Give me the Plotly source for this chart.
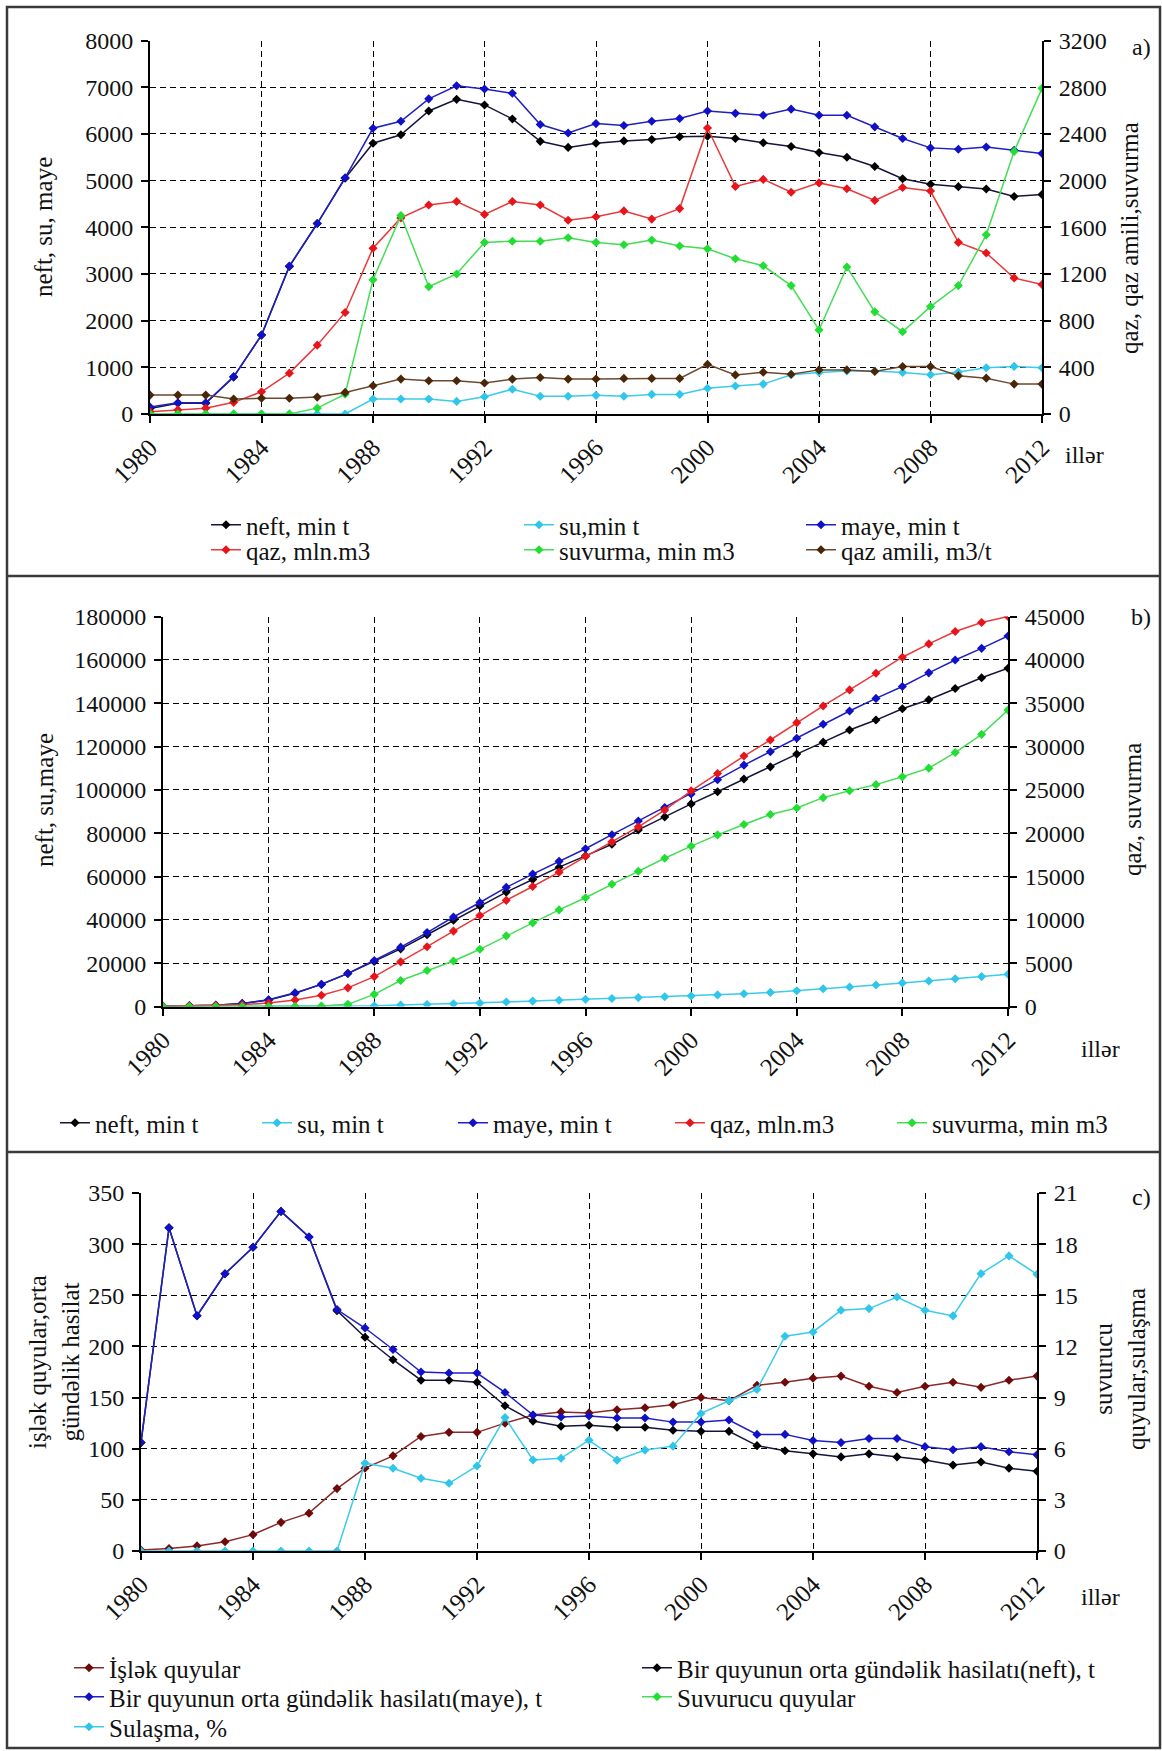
import plotly.graph_objects as go

# ---------------------------------------------------------------- data
years = list(range(1980, 2013))
year_ticks = list(range(1980, 2013, 4))

# a) annual production
neft_a = [120, 230, 230, 790, 1690, 3160, 4080, 5050, 5800, 5980, 6490, 6740, 6620,
          6320, 5840, 5710, 5800, 5850, 5880, 5940, 5950, 5900, 5810, 5730, 5600,
          5500, 5300, 5040, 4920, 4870, 4820, 4660, 4700]
su_a = [0, 0, 0, 0, 0, 0, 0, 0, 320, 320, 320, 270, 370, 530, 380, 380, 400, 380,
        420, 420, 550, 600, 640, 840, 890, 920, 920, 890, 840, 900, 990, 1020, 990]
maye_a = [150, 240, 240, 800, 1690, 3170, 4080, 5060, 6120, 6270, 6750, 7030, 6960,
          6870, 6200, 6020, 6220, 6180, 6270, 6330, 6490, 6440, 6400, 6530, 6400,
          6400, 6150, 5900, 5700, 5670, 5720, 5650, 5580]
qaz_a = [20, 35, 50, 100, 190, 350, 590, 870, 1420, 1680, 1790, 1820, 1710, 1820,
         1790, 1660, 1690, 1740, 1670, 1760, 2450, 1950, 2010, 1900, 1980, 1930,
         1830, 1940, 1910, 1470, 1380, 1165, 1110]
suvurma_a = [0, 0, 0, 0, 0, 0, 50, 170, 1150, 1700, 1090, 1200, 1470, 1480, 1480,
             1510, 1470, 1450, 1490, 1440, 1415, 1330, 1270, 1100, 720, 1260, 875,
             705, 920, 1100, 1535, 2250, 2790]
qaz_amili_a = [162, 162, 162, 128, 135, 135, 145, 185, 242, 299, 285, 285, 265, 299,
               313, 299, 300, 305, 305, 305, 425, 335, 358, 341, 378, 378, 364, 406,
               406, 327, 307, 256, 256]

# b) cumulative production
neft_b = [120, 350, 580, 1370, 3000, 6100, 10200, 15200, 20800, 26600, 33100, 39800,
          46400, 52800, 58600, 64300, 69500, 74900, 81500, 87500, 93500, 99100,
          105000, 110600, 116500, 122000, 127600, 132200, 137400, 141600, 146800,
          151700, 156100]
su_b = [0, 0, 0, 0, 0, 0, 0, 0, 300, 650, 950, 1250, 1600, 2100, 2500, 2900, 3300,
        3700, 4100, 4500, 4850, 5350, 5900, 6500, 7300, 8200, 9000, 9900, 10900,
        11800, 12800, 13800, 14900]
maye_b = [150, 390, 630, 1430, 3100, 6300, 10300, 15300, 21200, 27400, 34100, 41300,
          48000, 55000, 61100, 67000, 72800, 79300, 85600, 91800, 98100, 104700,
          111400, 117600, 123800, 130300, 136400, 142200, 147700, 154000, 159900,
          165300, 171000]
qaz_b = [20, 55, 105, 205, 400, 750, 1300, 2150, 3450, 5150, 6900, 8700, 10500, 12250,
         13850, 15500, 17300, 19000, 20730, 22660, 24890, 26890, 28900, 30750, 32750,
         34680, 36530, 38450, 40300, 41840, 43270, 44310, 45000]
suvurma_b = [0, 0, 0, 0, 0, 0, 50, 250, 1400, 3000, 4150, 5250, 6600, 8150, 9650,
             11150, 12550, 14100, 15600, 17100, 18500, 19800, 21000, 22150, 22900,
             24100, 24900, 25600, 26500, 27500, 29300, 31400, 34200]

# c) wells, daily rates and water cut
islek_c = [1, 2.5, 5, 9, 16, 28, 37, 61, 81, 93, 112, 116, 116, 125, 133, 136, 135,
           138, 140, 143, 150, 147, 162, 165, 169, 171, 161, 155, 161, 165, 160, 167,
           171]
neft_c = [106, 316, 230, 271, 297, 332, 307, 235, 209, 187, 167, 167, 165, 142, 127,
          122, 123, 121, 121, 118, 117, 117, 103, 98, 95, 92, 95, 92, 89, 84, 87, 81,
          78]
maye_c = [106, 316, 230, 271, 297, 332, 307, 236, 218, 197, 175, 174, 174, 155, 133,
          131, 132, 130, 130, 126, 126, 128, 114, 114, 108, 106, 110, 110, 102, 99,
          102, 97, 94]
suvurucu_c = [None] * 33
sulasma_c = [0, 0, 0, 0, 0, 0, 0, 0, 5.15, 4.85, 4.27, 3.97, 4.99, 7.83, 5.34, 5.44,
             6.5, 5.33, 5.92, 6.15, 8.07, 8.81, 9.47, 12.6, 12.85, 14.12, 14.22, 14.9,
             14.12, 13.79, 16.27, 17.31, 16.23]

# ---------------------------------------------------------------- layout helpers
W, H = 1162, 1751
FONT = "Liberation Serif"


def fx(px):
    return px / W


def fy(py):
    return 1 - py / H


fig = go.Figure()

BLACK = ("#000000", "#14143c")
CYAN = ("#2fc6ea", "#3ccbec")
BLUE = ("#1010c8", "#2020c0")
RED = ("#e8141c", "#e83a3a")
GREEN = ("#22dd33", "#44dd55")
BROWN = ("#4a2608", "#6b4a30")
DARKRED = ("#6e0a0a", "#8a2a2a")


def add(xa, ya, name, y, colors, legend):
    mc, lc = colors
    fig.add_trace(go.Scatter(
        x=years, y=y, name=name, mode="lines+markers",
        xaxis=xa, yaxis=ya, legend=legend,
        line=dict(color=lc, width=1.5),
        marker=dict(symbol="diamond", size=7, color=mc),
    ))


legend_specs = {}
leg_count = [0]


def leg(x_line, y_row):
    leg_count[0] += 1
    key = "legend" if leg_count[0] == 1 else f"legend{leg_count[0]}"
    legend_specs[key] = dict(
        x=fx(x_line - 5), y=fy(y_row), xanchor="left", yanchor="middle",
        bgcolor="rgba(0,0,0,0)", borderwidth=0, itemwidth=30,
        font=dict(family=FONT, size=25, color="#111"),
    )
    return key


# panel a
add("x", "y", "neft, min t", neft_a, BLACK, leg(211, 525))
add("x", "y", "su,min t", su_a, CYAN, leg(524, 525))
add("x", "y", "maye, min t", maye_a, BLUE, leg(806, 525))
add("x", "y2", "qaz, mln.m3", qaz_a, RED, leg(211, 550))
add("x", "y2", "suvurma, min m3", suvurma_a, GREEN, leg(524, 550))
add("x", "y2", "qaz amili, m3/t", qaz_amili_a, BROWN, leg(806, 550))

# panel b
add("x2", "y3", "neft, min t", neft_b, BLACK, leg(60, 1123))
add("x2", "y3", "su, min t", su_b, CYAN, leg(262, 1123))
add("x2", "y3", "maye, min t", maye_b, BLUE, leg(458, 1123))
add("x2", "y4", "qaz, mln.m3", qaz_b, RED, leg(675, 1123))
add("x2", "y4", "suvurma, min m3", suvurma_b, GREEN, leg(897, 1123))

# panel c
add("x3", "y5", "İşlək quyular", islek_c, DARKRED, leg(74, 1668))
add("x3", "y5", "Bir quyunun orta gündəlik hasilatı(neft), t", neft_c, BLACK, leg(642, 1668))
add("x3", "y5", "Bir quyunun orta gündəlik hasilatı(maye), t", maye_c, BLUE, leg(74, 1697))
add("x3", "y6", "Suvurucu quyular", suvurucu_c, GREEN, leg(642, 1697))
add("x3", "y6", "Sulaşma, %", sulasma_c, CYAN, leg(74, 1727))

YTICKFONT = dict(family=FONT, size=24, color="#111")
XTICKFONT = dict(family=FONT, size=25, color="#111")
GRID = dict(showgrid=True, gridcolor="#000000", gridwidth=1.4, griddash="6px,4px")


def xaxis(left, right, anchor):
    return dict(
        domain=[fx(left), fx(right)], anchor=anchor, range=[1980, 2012],
        tickmode="array", tickvals=year_ticks, ticktext=[str(t) for t in year_ticks],
        tickangle=-45, ticks="outside", ticklen=7, tickwidth=1.5, tickcolor="#000",
        showline=True, linecolor="#000", linewidth=2, zeroline=False,
        tickfont=XTICKFONT, automargin=False, **GRID,
    )


def yleft(top, bottom, anchor, rng, dtick):
    return dict(
        domain=[fy(bottom), fy(top)], anchor=anchor, range=rng, dtick=dtick,
        tickformat="d", ticks="outside", ticklen=7, tickwidth=1.5, tickcolor="#000",
        showline=True, linecolor="#000", linewidth=2, zeroline=False,
        tickfont=YTICKFONT, automargin=False, ticklabelstandoff=3, **GRID,
    )


def yright(over, anchor, rng, dtick):
    return dict(
        overlaying=over, anchor=anchor, side="right", range=rng, dtick=dtick,
        tickformat="d", ticks="outside", ticklen=7, tickwidth=1.5, tickcolor="#000",
        showline=True, linecolor="#000", linewidth=2, zeroline=False,
        showgrid=False, tickfont=YTICKFONT, automargin=False, ticklabelstandoff=3,
    )


# plot areas (pixel boxes)
A = dict(left=150, right=1042, top=40.5, bottom=414)
B = dict(left=163, right=1008, top=616.5, bottom=1006.5)
C = dict(left=141, right=1037, top=1193, bottom=1551)

layout = dict(
    width=W, height=H, margin=dict(l=0, r=0, t=0, b=0),
    paper_bgcolor="white", plot_bgcolor="white",
    font=dict(family=FONT, size=24, color="#111"),
    showlegend=True,
    xaxis=xaxis(A["left"], A["right"], "y"),
    yaxis=yleft(A["top"], A["bottom"], "x", [0, 8000], 1000),
    yaxis2=yright("y", "x", [0, 3200], 400),
    xaxis2=xaxis(B["left"], B["right"], "y3"),
    yaxis3=yleft(B["top"], B["bottom"], "x2", [0, 180000], 20000),
    yaxis4=yright("y3", "x2", [0, 45000], 5000),
    xaxis3=xaxis(C["left"], C["right"], "y5"),
    yaxis5=yleft(C["top"], C["bottom"], "x3", [0, 350], 50),
    yaxis6=yright("y5", "x3", [0, 21], 3),
)
layout.update(legend_specs)
fig.update_layout(**layout)


def note(text, x, y, size=25, angle=0):
    fig.add_annotation(
        text=text, x=fx(x), y=fy(y), xref="paper", yref="paper",
        showarrow=False, textangle=angle, xanchor="center", yanchor="middle",
        font=dict(family=FONT, size=size, color="#111"),
    )


# axis titles
note("neft, su, maye", 44, 227, angle=-90)
note("qaz, qaz amili,suvurma", 1130, 238, angle=-90)
note("neft, su,maye", 44, 800, angle=-90)
note("qaz, suvurma", 1132, 810, angle=-90)
note("işlək quyular,orta<br>gündəlik hasilat", 54, 1362, angle=-90)
note("suvurucu<br>quyular,sulaşma", 1120, 1369, angle=-90)

# panel captions and x-axis unit labels
note("a)", 1141, 47, size=24)
note("b)", 1141, 617, size=24)
note("c)", 1141, 1197, size=24)
note("illər", 1084, 455, size=24)
note("illər", 1100, 1049, size=24)
note("illər", 1100, 1597, size=24)

# panel frames
FRAME = dict(color="#3a3a3a", width=2.5)
fig.add_shape(type="rect", xref="paper", yref="paper",
              x0=fx(7), x1=fx(1160), y0=fy(1748), y1=fy(7), line=FRAME)
for sep in (576, 1152):
    fig.add_shape(type="line", xref="paper", yref="paper",
                  x0=fx(7), x1=fx(1160), y0=fy(sep), y1=fy(sep), line=FRAME)

fig.write_html("out.html")
